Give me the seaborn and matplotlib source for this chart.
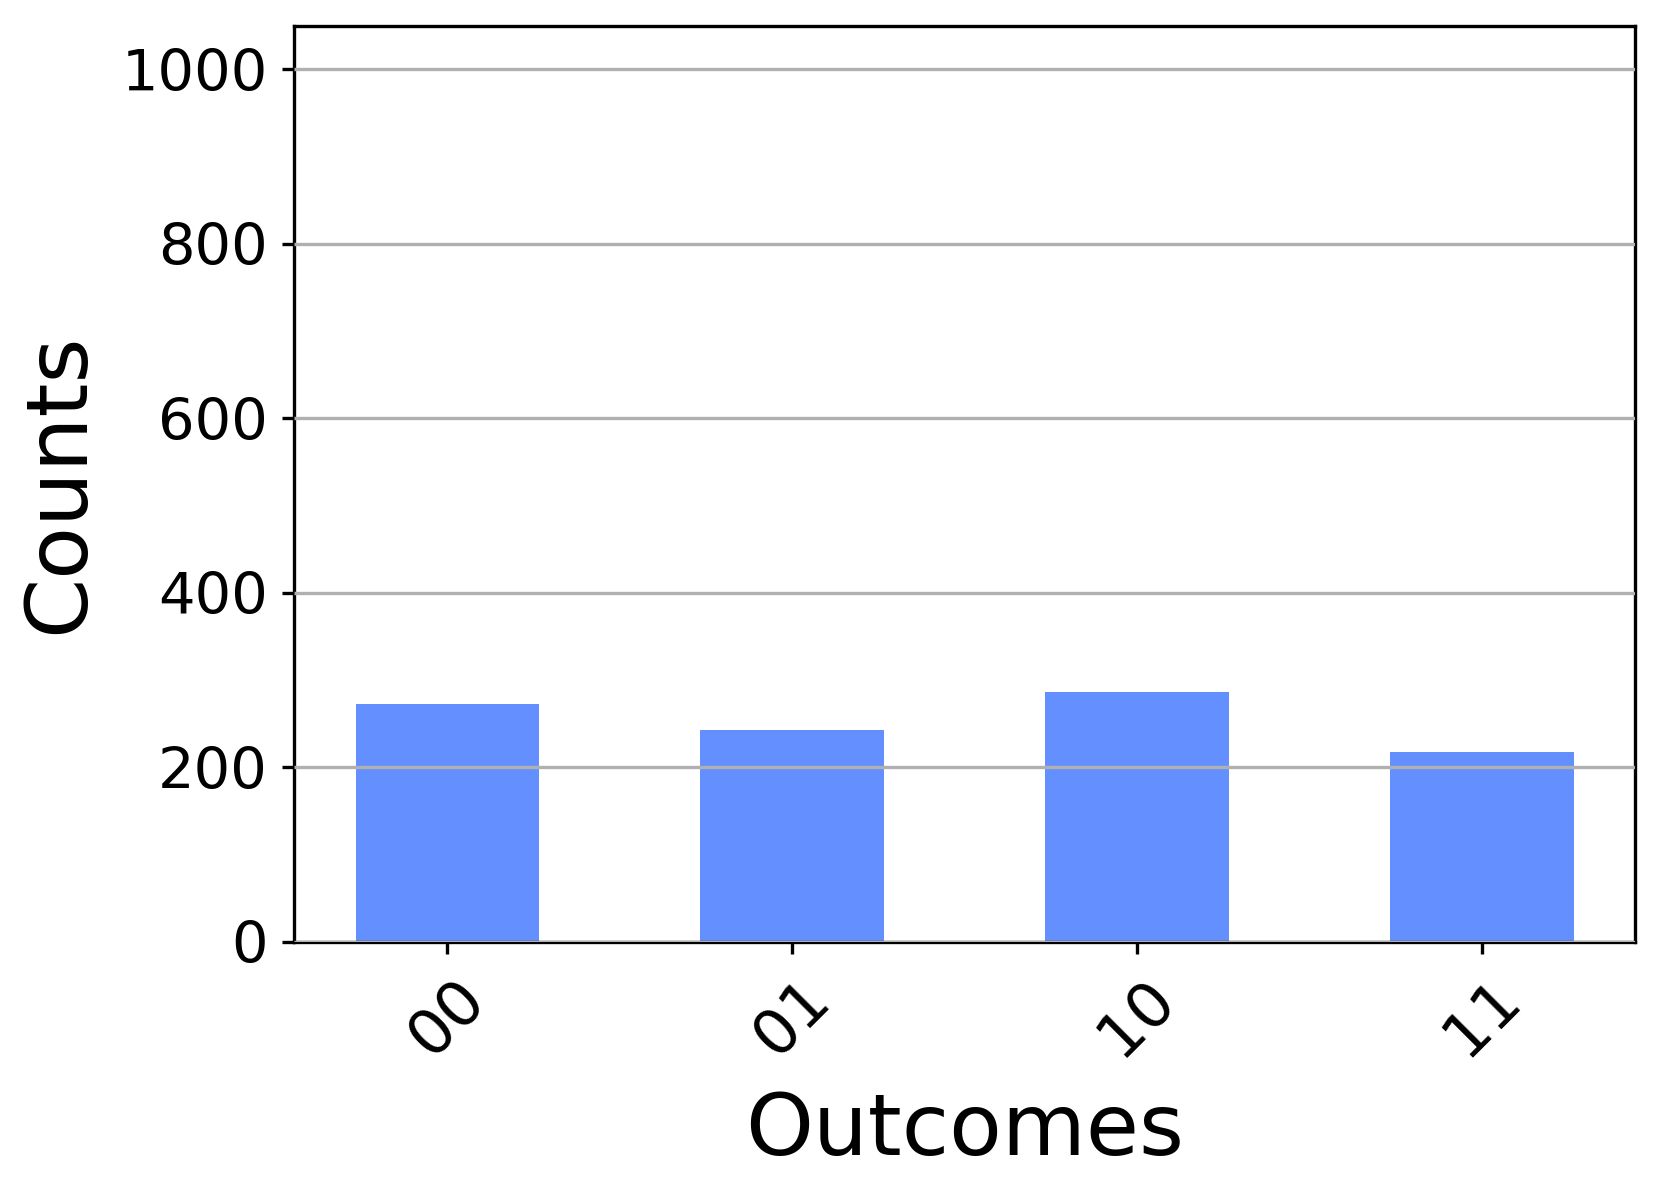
import matplotlib
matplotlib.use("Agg")
import matplotlib.pyplot as plt
import seaborn as sns
import pandas as pd

outcomes = ["00", "01", "10", "11"]
counts = [272, 243, 286, 217]
yticks = [0, 200, 400, 600, 800, 1000]

df = pd.DataFrame({"Outcomes": outcomes, "Counts": counts})

plt.rcParams['font.family'] = ['DejaVu Sans']
fig = plt.figure(figsize=(1661 / 300, 1193 / 300), dpi=300)
ax = fig.add_axes([294.3 / 1661, 1 - 941.7 / 1193, (1635 - 294.3) / 1661, (941.7 - 25.7) / 1193])

sns.barplot(data=df, x="Outcomes", y="Counts", color="#648fff", saturation=1,
            width=0.532, ax=ax, errorbar=None)

ax.set_xlim(-0.4435, 3.4435)
ax.set_ylim(0, 1050)
ax.set_yticks(yticks)
ax.set_yticklabels([str(v) for v in yticks])
ax.yaxis.grid(True, color="#b0b0b0", linewidth=0.8)
ax.xaxis.grid(False)
ax.set_axisbelow(False)
ax.tick_params(axis="both", length=2.8, width=0.8)
ax.tick_params(axis="y", labelsize=13.8)
ax.tick_params(axis="x", labelsize=15.2, pad=3.5)
plt.setp(ax.get_xticklabels(), rotation=45, ha="center")
ax.set_xlabel("Outcomes", fontsize=20.7, labelpad=5.5)
ax.set_ylabel("Counts", fontsize=20.7, labelpad=5)
for s in ax.spines.values():
    s.set_linewidth(0.8)
    s.set_color("black")

fig.savefig("out.png", dpi=300)
